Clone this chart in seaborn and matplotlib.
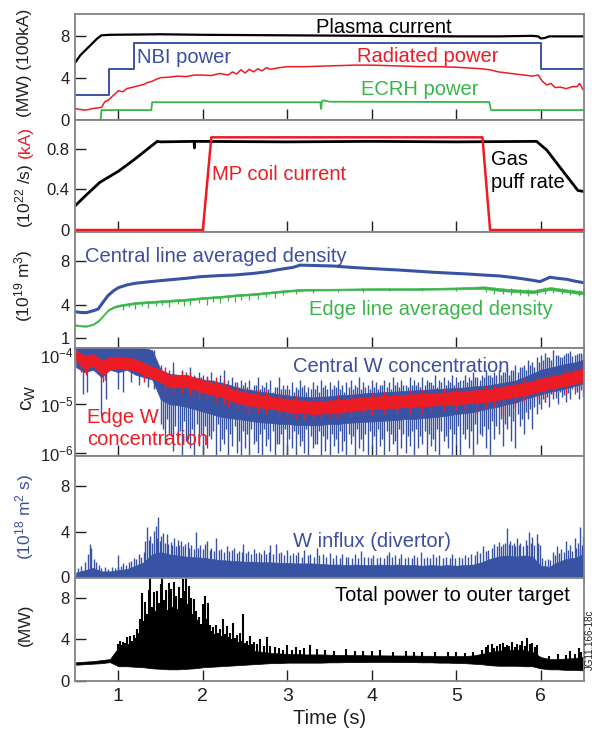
import numpy as np
import matplotlib
matplotlib.use("Agg")
import matplotlib.pyplot as plt
import seaborn as sns

# ---------------- data ----------------
t_grid = [0.5, 0.6, 0.7, 0.8, 0.9, 1.0, 1.1, 1.2, 1.3, 1.4, 1.5, 1.6, 1.7, 1.8, 1.9, 2.0,
          2.1, 2.2, 2.3, 2.4, 2.5, 2.6, 2.7, 2.8, 2.9, 3.0, 3.1, 3.2, 3.3, 3.4, 3.5, 3.6,
          3.7, 3.8, 3.9, 4.0, 4.1, 4.2, 4.3, 4.4, 4.5, 4.6, 4.7, 4.8, 4.9, 5.0, 5.1, 5.2,
          5.3, 5.4, 5.5, 5.6, 5.7, 5.8, 5.9, 6.0, 6.1, 6.2, 6.3, 6.4, 6.5]

# panel 1
pc_t = [0.49, 0.55, 0.6, 0.65, 0.7, 0.75, 0.8, 0.9, 1.5, 2.0, 3.0, 4.0, 5.0, 5.5, 5.9, 5.97, 6.0, 6.05, 6.1, 6.51]
pc_v = [5.5, 6.2, 6.6, 7.0, 7.4, 7.8, 8.1, 8.15, 8.2, 8.15, 8.1, 8.05, 8.0, 8.0, 8.05, 8.0, 7.8, 7.85, 8.0, 8.0]
nbi_t = [0.49, 0.89, 1.19, 6.0, 6.51]
nbi_v = [2.4, 4.85, 7.35, 4.85, 4.85]
rp_t = [0.49, 0.55, 0.6, 0.65, 0.7, 0.75, 0.8, 0.84, 0.88, 0.92, 0.96, 1.0, 1.05, 1.1, 1.15, 1.2,
        1.25, 1.3, 1.35, 1.4, 1.45, 1.5, 1.6, 1.7, 1.8, 1.9, 2.0, 2.1, 2.2, 2.3, 2.35, 2.4,
        2.45, 2.5, 2.55, 2.6, 2.65, 2.7, 2.75, 2.8, 2.9, 3.0, 3.2, 3.4, 3.6, 3.8, 4.0, 4.2,
        4.4, 4.6, 4.8, 5.0, 5.1, 5.2, 5.3, 5.4, 5.5, 5.6, 5.7, 5.8, 5.9, 5.97, 6.02, 6.07,
        6.12, 6.17, 6.23, 6.3, 6.38, 6.43, 6.46, 6.5]
rp_v = [1.1, 1.0, 0.95, 1.0, 1.1, 1.15, 1.2, 1.75, 1.9, 2.2, 2.5, 2.8, 2.7, 3.0, 3.1, 3.2,
        3.3, 3.4, 3.6, 3.7, 3.9, 4.05, 4.1, 4.2, 4.15, 4.3, 4.3, 4.25, 4.45, 4.3, 4.6, 4.4,
        4.8, 4.5, 4.85, 4.6, 4.9, 4.7, 5.0, 4.85, 5.0, 5.1, 5.1, 5.15, 5.2, 5.25, 5.25, 5.2,
        5.15, 5.1, 5.1, 5.05, 5.0, 4.95, 4.9, 4.8, 4.6, 4.5, 4.4, 4.3, 4.2, 4.3, 3.7, 3.35,
        3.5, 3.1, 3.15, 3.0, 3.2, 3.2, 3.5, 2.9]
ec_t = [0.49, 0.79, 0.8, 1.39, 1.4, 3.39, 3.4, 3.41, 3.43, 3.5, 5.39, 5.41, 6.51]
ec_v = [0.0, 0.0, 0.95, 0.95, 1.7, 1.7, 1.05, 1.8, 1.88, 1.75, 1.72, 0.95, 0.95]

# panel 2
gas_t = [0.49, 0.6, 0.78, 1.0, 1.18, 1.46, 1.5, 1.897, 1.9, 1.903, 3.0, 4.0, 5.0, 5.95, 6.07, 6.19, 6.31, 6.44, 6.51]
gas_v = [0.24, 0.33, 0.47, 0.58, 0.69, 0.875, 0.87, 0.875, 0.81, 0.875, 0.87, 0.875, 0.87, 0.875, 0.79, 0.66, 0.53, 0.39, 0.38]
mp_t = [0.49, 2.0, 2.1, 5.31, 5.40, 6.51]
mp_v = [0.0, 0.0, 0.915, 0.915, 0.0, 0.0]

# panel 3
cd_t = [0.49, 0.55, 0.62, 0.7, 0.76, 0.82, 0.88, 0.94, 1.0, 1.1, 1.2, 1.38, 1.58, 1.8, 1.97, 2.2,
        2.37, 2.6, 2.76, 2.9, 3.07, 3.15, 3.3, 3.54, 3.75, 3.94, 4.13, 4.33, 4.53, 4.73, 4.93,
        5.12, 5.32, 5.52, 5.7, 5.83, 5.92, 5.99, 6.05, 6.11, 6.2, 6.31, 6.4, 6.51]
cd_v = [3.42, 3.35, 3.33, 3.5, 3.65, 4.3, 4.9, 5.3, 5.6, 5.85, 6.0, 6.15, 6.3, 6.45, 6.6, 6.7,
        6.75, 6.9, 7.05, 7.25, 7.45, 7.65, 7.62, 7.57, 7.45, 7.36, 7.28, 7.2, 7.1, 7.0, 6.92,
        6.85, 6.75, 6.66, 6.5, 6.36, 6.25, 6.15, 6.35, 6.55, 6.45, 6.36, 6.2, 6.05]
ed_t = [0.49, 0.55, 0.62, 0.7, 0.76, 0.82, 0.88, 0.94, 1.0, 1.2, 1.4, 1.6, 1.8, 2.0, 2.2, 2.4,
        2.6, 2.8, 3.0, 3.2, 3.5, 4.0, 4.5, 5.0, 5.32, 5.52, 5.7, 5.91, 6.0, 6.11, 6.3, 6.51]
ed_hi = [2.27, 2.2, 2.17, 2.35, 2.65, 3.15, 3.65, 3.9, 4.05, 4.3, 4.4, 4.5, 4.6, 4.75, 4.85, 5.0,
         5.1, 5.25, 5.4, 5.5, 5.5, 5.55, 5.55, 5.62, 5.72, 5.55, 5.45, 5.35, 5.5, 5.65, 5.45, 5.25]
ed_lo = [2.13, 2.08, 2.05, 2.22, 2.5, 3.0, 3.5, 3.75, 3.88, 4.12, 4.22, 4.32, 4.42, 4.58, 4.68, 4.83,
         4.93, 5.08, 5.23, 5.33, 5.35, 5.4, 5.4, 5.45, 5.5, 5.3, 5.2, 5.1, 5.25, 5.4, 5.2, 4.98]
# green noise spikes: (time, bottom, top)
ed_spikes = [(1.05, 3.55, 4.0), (1.12, 3.8, 4.2), (1.2, 3.7, 4.2), (1.28, 3.9, 4.3), (1.35, 3.75, 4.3),
             (1.45, 3.9, 4.4), (1.52, 4.0, 4.4), (1.6, 3.85, 4.45), (1.7, 4.1, 4.5), (1.78, 3.95, 4.55),
             (1.85, 4.05, 4.6), (1.95, 4.2, 4.7), (2.05, 4.0, 4.75), (2.12, 4.3, 4.8), (2.2, 4.25, 4.85),
             (2.3, 4.4, 4.9), (2.38, 4.3, 4.95), (2.45, 4.5, 5.0), (2.55, 4.45, 5.05), (2.65, 4.6, 5.15),
             (2.75, 4.75, 5.2), (2.85, 4.7, 5.3), (2.95, 4.9, 5.35), (3.1, 5.05, 5.45), (3.3, 5.15, 5.5),
             (3.6, 5.2, 5.5), (3.9, 5.25, 5.55), (4.2, 5.3, 5.55), (4.6, 5.28, 5.55), (5.0, 5.3, 5.62),
             (5.35, 5.25, 5.75), (5.45, 5.0, 5.65), (5.55, 5.05, 5.6), (5.65, 4.9, 5.55), (5.75, 4.95, 5.5),
             (5.85, 4.85, 5.45), (5.95, 4.9, 5.5), (6.05, 5.05, 5.65), (6.15, 5.1, 5.7), (6.25, 5.0, 5.55),
             (6.35, 4.95, 5.5), (6.45, 4.8, 5.35)]

# panel 4 (log10 of c_W)
red_hi = [-3.9, -4.02, -3.98, -4.1, -4.05, -4.03, -4.05, -4.08, -4.16, -4.24, -4.3, -4.4, -4.41,
          -4.4, -4.46, -4.51, -4.56, -4.59, -4.66, -4.72, -4.76, -4.79, -4.82, -4.84, -4.87,
          -4.9, -4.92, -4.93, -4.95, -4.94, -4.93, -4.91, -4.9, -4.88, -4.86, -4.85, -4.84,
          -4.83, -4.82, -4.81, -4.8, -4.79, -4.78, -4.77, -4.76, -4.75, -4.74, -4.72, -4.71,
          -4.69, -4.66, -4.63, -4.6, -4.57, -4.53, -4.48, -4.44, -4.41, -4.37, -4.33, -4.28]
red_lo = [-4.12, -4.3, -4.22, -4.4, -4.3, -4.27, -4.29, -4.32, -4.4, -4.48, -4.55, -4.65, -4.66,
          -4.65, -4.71, -4.76, -4.81, -4.84, -4.91, -4.97, -5.01, -5.04, -5.07, -5.09, -5.12,
          -5.15, -5.17, -5.18, -5.2, -5.19, -5.18, -5.16, -5.15, -5.13, -5.11, -5.1, -5.09,
          -5.08, -5.07, -5.06, -5.05, -5.04, -5.03, -5.02, -5.01, -5.0, -4.99, -4.97, -4.96,
          -4.94, -4.91, -4.88, -4.85, -4.82, -4.78, -4.73, -4.69, -4.66, -4.62, -4.58, -4.53]
red_spikes = [(0.56, -4.35, -4.0), (0.62, -4.4, -4.0), (0.82, -4.55, -4.1), (0.84, -4.5, -4.1),
              (1.3, -4.55, -4.2), (1.95, -4.9, -4.45), (2.3, -5.05, -4.6), (2.55, -5.2, -4.75),
              (2.9, -5.25, -4.8), (3.2, -5.3, -4.9), (3.5, -5.28, -4.9), (3.9, -5.22, -4.85),
              (4.3, -5.2, -4.8), (4.7, -5.15, -4.75), (5.1, -5.15, -4.7), (5.25, -5.2, -4.7),
              (5.55, -5.25, -4.6), (5.7, -5.05, -4.55), (6.05, -4.95, -4.4), (6.3, -4.8, -4.3),
              (1.55, -4.75, -4.25), (1.65, -4.8, -4.3), (1.75, -4.78, -4.32), (1.85, -4.82, -4.35),
              (2.05, -4.9, -4.42), (2.15, -4.95, -4.45), (2.25, -5.0, -4.5), (2.4, -5.1, -4.6),
              (2.5, -5.12, -4.65), (2.65, -5.18, -4.7), (2.75, -5.2, -4.72), (3.0, -5.28, -4.8),
              (3.1, -5.3, -4.82), (3.3, -5.32, -4.85), (3.4, -5.3, -4.85), (3.6, -5.28, -4.82),
              (3.75, -5.26, -4.8), (4.0, -5.22, -4.76), (4.15, -5.2, -4.74), (4.45, -5.18, -4.72),
              (4.6, -5.17, -4.7), (4.85, -5.14, -4.68), (5.0, -5.12, -4.66), (5.35, -5.08, -4.62),
              (5.45, -5.06, -4.6), (5.8, -4.95, -4.48), (5.95, -4.9, -4.42), (6.15, -4.82, -4.35),
              (6.4, -4.72, -4.25), (6.48, -4.68, -4.18)]

bw_hi = [-3.82, -3.82, -3.82, -3.85, -3.82, -3.82, -3.84, -3.85, -3.86, -3.9, -4.3, -4.38, -4.4,
         -4.42, -4.45, -4.5, -4.52, -4.56, -4.6, -4.66, -4.7, -4.72, -4.75, -4.77, -4.8, -4.82,
         -4.84, -4.85, -4.86, -4.85, -4.84, -4.82, -4.81, -4.8, -4.78, -4.77, -4.76, -4.75, -4.74,
         -4.73, -4.72, -4.71, -4.7, -4.69, -4.68, -4.67, -4.66, -4.64, -4.63, -4.61, -4.58, -4.55,
         -4.52, -4.45, -4.38, -4.3, -4.26, -4.22, -4.18, -4.15, -4.1]
bw_lo = [-4.25, -4.35, -4.3, -4.45, -4.3, -4.35, -4.3, -4.4, -4.45, -4.5, -4.9, -5.0, -5.02,
         -5.05, -5.1, -5.15, -5.2, -5.25, -5.28, -5.3, -5.32, -5.35, -5.37, -5.38, -5.4, -5.4,
         -5.42, -5.42, -5.43, -5.42, -5.4, -5.4, -5.38, -5.37, -5.36, -5.35, -5.34, -5.33, -5.32,
         -5.3, -5.3, -5.28, -5.27, -5.25, -5.23, -5.2, -5.18, -5.16, -5.12, -5.08, -5.05, -5.0,
         -4.97, -4.9, -4.85, -4.8, -4.75, -4.72, -4.68, -4.63, -4.58]
# blue noise spikes before the drop: (time, bottom, top)
bw_early_spikes = [(0.58, -4.8, -3.9), (0.63, -4.75, -3.9), (0.8, -5.25, -3.9), (0.85, -4.9, -3.9),
                   (1.0, -4.7, -3.9), (1.05, -4.75, -3.9), (1.15, -4.55, -3.9), (1.25, -4.6, -3.9),
                   (1.35, -4.65, -3.9), (1.42, -4.7, -3.9)]
# blue noise spikes after the drop, every 0.05 s from 1.50 to 6.50 (long ones)
bw_spk_t = [1.50, 1.55, 1.60, 1.65, 1.70, 1.75, 1.80, 1.85, 1.90, 1.95,
            2.00, 2.05, 2.10, 2.15, 2.20, 2.25, 2.30, 2.35, 2.40, 2.45,
            2.50, 2.55, 2.60, 2.65, 2.70, 2.75, 2.80, 2.85, 2.90, 2.95,
            3.00, 3.05, 3.10, 3.15, 3.20, 3.25, 3.30, 3.35, 3.40, 3.45,
            3.50, 3.55, 3.60, 3.65, 3.70, 3.75, 3.80, 3.85, 3.90, 3.95,
            4.00, 4.05, 4.10, 4.15, 4.20, 4.25, 4.30, 4.35, 4.40, 4.45,
            4.50, 4.55, 4.60, 4.65, 4.70, 4.75, 4.80, 4.85, 4.90, 4.95,
            5.00, 5.05, 5.10, 5.15, 5.20, 5.25, 5.30, 5.35, 5.40, 5.45,
            5.50, 5.55, 5.60, 5.65, 5.70, 5.75, 5.80, 5.85, 5.90, 5.95,
            6.00, 6.05, 6.10, 6.15, 6.20, 6.25, 6.30, 6.35, 6.40, 6.45, 6.50]
bw_spk_lo = [-5.4, -5.8, -5.6, -5.95, -5.7, -6.05, -5.75, -5.9, -6.05, -5.85,
             -6.05, -5.9, -5.7, -6.05, -5.95, -5.8, -6.05, -5.85, -6.0, -6.05,
             -5.9, -6.05, -5.8, -6.0, -6.05, -5.85, -5.95, -6.05, -5.8, -6.05,
             -6.05, -5.9, -6.05, -5.85, -6.0, -6.05, -5.9, -5.8, -6.05, -5.95,
             -6.05, -5.85, -6.0, -5.95, -6.05, -5.8, -6.05, -5.9, -5.95, -6.05,
             -5.9, -6.05, -5.85, -6.05, -5.95, -5.8, -6.05, -5.9, -6.0, -5.85,
             -6.05, -5.9, -5.8, -6.05, -5.85, -5.95, -6.05, -5.75, -5.9, -6.05,
             -5.85, -6.05, -5.7, -5.9, -6.05, -5.8, -5.65, -5.9, -6.05, -5.7,
             -5.6, -5.85, -5.5, -5.75, -5.9, -5.45, -5.6, -5.3, -5.5, -5.2,
             -5.1, -4.95, -5.05, -4.9, -5.0, -4.85, -4.95, -4.9, -4.8, -4.9, -4.85]
bw_spk_hi = [-4.2, -4.35, -4.3, -4.15, -4.4, -4.3, -4.35, -4.25, -4.4, -4.35,
             -4.4, -4.45, -4.35, -4.5, -4.4, -4.3, -4.5, -4.45, -4.55, -4.5,
             -4.55, -4.5, -4.6, -4.45, -4.6, -4.55, -4.5, -4.65, -4.45, -4.6,
             -4.6, -4.55, -4.65, -4.5, -4.6, -4.65, -4.55, -4.6, -4.5, -4.6,
             -4.55, -4.6, -4.5, -4.6, -4.55, -4.5, -4.6, -4.45, -4.55, -4.6,
             -4.5, -4.55, -4.6, -4.5, -4.55, -4.45, -4.55, -4.5, -4.6, -4.45,
             -4.5, -4.55, -4.45, -4.5, -4.55, -4.4, -4.5, -4.45, -4.5, -4.4,
             -4.45, -4.5, -4.4, -4.45, -4.35, -4.45, -4.4, -4.3, -4.4, -4.35,
             -4.3, -4.35, -4.25, -4.3, -4.2, -4.25, -4.2, -4.1, -4.15, -4.05,
             -4.0, -3.95, -4.05, -3.9, -4.0, -4.05, -3.95, -3.92, -4.0, -3.95, -3.98]
# blue noise spikes in between (shorter ones), from 1.525 to 6.475
bw_spk2_t = [1.525, 1.575, 1.625, 1.675, 1.725, 1.775, 1.825, 1.875, 1.925, 1.975,
             2.025, 2.075, 2.125, 2.175, 2.225, 2.275, 2.325, 2.375, 2.425, 2.475,
             2.525, 2.575, 2.625, 2.675, 2.725, 2.775, 2.825, 2.875, 2.925, 2.975,
             3.025, 3.075, 3.125, 3.175, 3.225, 3.275, 3.325, 3.375, 3.425, 3.475,
             3.525, 3.575, 3.625, 3.675, 3.725, 3.775, 3.825, 3.875, 3.925, 3.975,
             4.025, 4.075, 4.125, 4.175, 4.225, 4.275, 4.325, 4.375, 4.425, 4.475,
             4.525, 4.575, 4.625, 4.675, 4.725, 4.775, 4.825, 4.875, 4.925, 4.975,
             5.025, 5.075, 5.125, 5.175, 5.225, 5.275, 5.325, 5.375, 5.425, 5.475,
             5.525, 5.575, 5.625, 5.675, 5.725, 5.775, 5.825, 5.875, 5.925, 5.975,
             6.025, 6.075, 6.125, 6.175, 6.225, 6.275, 6.325, 6.375, 6.425, 6.475]
bw_spk2_lo = [-5.5, -5.3, -5.65, -5.45, -5.55, -5.35, -5.7, -5.5, -5.4, -5.6,
              -5.45, -5.65, -5.55, -5.4, -5.7, -5.5, -5.6, -5.45, -5.75, -5.55,
              -5.6, -5.5, -5.75, -5.6, -5.5, -5.7, -5.55, -5.8, -5.6, -5.5,
              -5.7, -5.55, -5.6, -5.75, -5.5, -5.65, -5.8, -5.55, -5.65, -5.7,
              -5.6, -5.7, -5.55, -5.75, -5.6, -5.65, -5.5, -5.7, -5.6, -5.55,
              -5.65, -5.5, -5.7, -5.55, -5.6, -5.75, -5.5, -5.6, -5.65, -5.55,
              -5.5, -5.65, -5.55, -5.6, -5.7, -5.5, -5.55, -5.65, -5.5, -5.6,
              -5.45, -5.6, -5.5, -5.55, -5.4, -5.6, -5.45, -5.5, -5.35, -5.45,
              -5.3, -5.4, -5.25, -5.35, -5.2, -5.3, -5.15, -5.1, -5.05, -5.0,
              -4.9, -4.85, -4.8, -4.88, -4.75, -4.82, -4.78, -4.7, -4.75, -4.72]
bw_spk2_hi = [-4.45, -4.5, -4.4, -4.55, -4.45, -4.5, -4.4, -4.55, -4.5, -4.45,
              -4.55, -4.6, -4.5, -4.6, -4.55, -4.65, -4.6, -4.55, -4.65, -4.6,
              -4.65, -4.7, -4.6, -4.7, -4.65, -4.7, -4.75, -4.65, -4.7, -4.7,
              -4.7, -4.75, -4.7, -4.65, -4.75, -4.7, -4.7, -4.75, -4.65, -4.7,
              -4.7, -4.65, -4.7, -4.75, -4.65, -4.7, -4.65, -4.7, -4.65, -4.7,
              -4.65, -4.7, -4.6, -4.65, -4.7, -4.6, -4.65, -4.6, -4.65, -4.6,
              -4.6, -4.65, -4.6, -4.55, -4.6, -4.65, -4.55, -4.6, -4.55, -4.6,
              -4.55, -4.5, -4.55, -4.5, -4.45, -4.5, -4.45, -4.4, -4.45, -4.4,
              -4.4, -4.35, -4.4, -4.3, -4.35, -4.25, -4.3, -4.2, -4.25, -4.15,
              -4.1, -4.05, -4.1, -4.0, -4.05, -4.0, -3.95, -4.02, -3.98, -3.95]

# panel 5 (W influx): dense floor + spikes (time, height)
wf_base = [0.4, 0.6, 0.8, 0.5, 0.5, 0.6, 0.7, 1.0, 1.3, 2.0, 2.2, 2.0, 1.9, 1.8, 1.75, 1.7,
           1.6, 1.5, 1.45, 1.4, 1.35, 1.35, 1.3, 1.3, 1.25, 1.25, 1.2, 1.2, 1.2, 1.15, 1.1, 1.1,
           1.05, 1.1, 1.05, 1.05, 1.1, 1.05, 1.1, 1.05, 1.05, 1.0, 1.05, 1.0, 1.05, 1.0, 1.05,
           1.1, 1.3, 1.6, 1.8, 1.9, 1.8, 1.9, 1.8, 1.0, 0.9, 1.3, 1.6, 1.7, 2.0]
wf_spikes = [(0.52, 0.8), (0.56, 1.0), (0.6, 1.3), (0.64, 2.0), (0.66, 2.9), (0.68, 2.6), (0.71, 1.6),
             (0.74, 1.3), (0.77, 1.1), (0.8, 0.8), (0.84, 0.9), (0.88, 0.7), (0.92, 0.9), (0.96, 0.8),
             (1.0, 1.9), (1.03, 1.0), (1.06, 1.2), (1.09, 1.1), (1.12, 1.3), (1.15, 1.4), (1.18, 1.7),
             (1.21, 1.6), (1.24, 2.0), (1.27, 1.8), (1.3, 2.2), (1.32, 3.2), (1.34, 4.4), (1.36, 3.3),
             (1.38, 3.6), (1.4, 3.0), (1.42, 4.1), (1.44, 4.5), (1.46, 3.4), (1.47, 5.3), (1.49, 3.2),
             (1.51, 3.6), (1.53, 3.9), (1.55, 3.0), (1.57, 3.8), (1.59, 2.9), (1.62, 3.1), (1.64, 2.8),
             (1.66, 3.4), (1.68, 2.7), (1.7, 3.3), (1.72, 2.8), (1.74, 3.2), (1.77, 2.7), (1.79, 2.9),
             (1.82, 3.1), (1.84, 2.6), (1.86, 2.8), (1.89, 2.5), (1.92, 4.0), (1.94, 2.6), (1.97, 2.8),
             (2.0, 2.5), (2.02, 2.9), (2.05, 3.2), (2.08, 2.4), (2.1, 2.6), (2.13, 2.3), (2.16, 3.4),
             (2.19, 2.4), (2.22, 2.5), (2.25, 2.2), (2.28, 2.7), (2.31, 2.3), (2.34, 2.4), (2.37, 2.6),
             (2.4, 2.1), (2.43, 2.3), (2.46, 2.2), (2.48, 2.9), (2.51, 2.1), (2.54, 2.3), (2.57, 2.0),
             (2.6, 2.5), (2.63, 2.1), (2.66, 2.2), (2.69, 2.0), (2.72, 2.4), (2.75, 2.0), (2.78, 2.2),
             (2.8, 2.8), (2.83, 2.0), (2.87, 2.9), (2.9, 2.1), (2.93, 2.2), (2.96, 1.9), (3.0, 2.4),
             (3.03, 1.9), (3.07, 2.1), (3.1, 1.9), (3.13, 2.2), (3.17, 1.8), (3.2, 2.4), (3.24, 1.9),
             (3.27, 2.0), (3.31, 1.8), (3.35, 2.6), (3.38, 1.9), (3.42, 2.0), (3.46, 1.8), (3.5, 2.1),
             (3.54, 1.7), (3.58, 1.9), (3.62, 1.7), (3.65, 2.0), (3.69, 1.8), (3.72, 1.8), (3.76, 1.7),
             (3.8, 2.0), (3.84, 1.7), (3.87, 2.3), (3.91, 1.8), (3.95, 1.8), (3.99, 1.7), (4.02, 1.9),
             (4.06, 1.7), (4.1, 1.8), (4.14, 1.7), (4.18, 1.9), (4.2, 2.2), (4.24, 1.8), (4.28, 1.9),
             (4.32, 1.7), (4.35, 2.0), (4.39, 1.7), (4.43, 1.8), (4.47, 1.7), (4.5, 1.9), (4.54, 1.8),
             (4.58, 2.2), (4.62, 1.7), (4.65, 1.8), (4.69, 1.7), (4.72, 2.0), (4.76, 1.8), (4.8, 1.9),
             (4.84, 1.7), (4.88, 1.8), (4.92, 1.7), (4.95, 2.0), (4.99, 1.7), (5.03, 1.8), (5.07, 1.7),
             (5.1, 1.9), (5.14, 1.8), (5.18, 2.0), (5.22, 1.9), (5.25, 2.3), (5.28, 2.1), (5.32, 2.7),
             (5.35, 2.3), (5.38, 2.4), (5.42, 2.6), (5.45, 2.9), (5.48, 2.7), (5.5, 3.1), (5.53, 2.7),
             (5.55, 2.9), (5.58, 3.0), (5.6, 4.3), (5.62, 2.9), (5.64, 3.2), (5.66, 2.8), (5.68, 3.0),
             (5.7, 2.7), (5.72, 3.4), (5.74, 2.8), (5.76, 3.0), (5.79, 2.7), (5.82, 3.3), (5.84, 2.8),
             (5.86, 4.0), (5.88, 3.0), (5.9, 3.5), (5.92, 2.8), (5.95, 3.8), (5.97, 3.0), (5.99, 2.8),
             (6.02, 1.7), (6.05, 1.5), (6.08, 1.6), (6.11, 1.5), (6.14, 2.2), (6.17, 1.9), (6.19, 2.7),
             (6.22, 2.1), (6.24, 2.5), (6.27, 2.2), (6.3, 3.2), (6.32, 2.4), (6.35, 2.8), (6.37, 2.3),
             (6.4, 3.4), (6.42, 2.6), (6.44, 3.0), (6.46, 2.5), (6.47, 4.4), (6.49, 2.8), (6.5, 3.6)]

# panel 6 (power to outer target): dense band + spikes (time, height)
pw_lo = [1.55, 1.6, 1.65, 1.7, 1.8, 1.4, 1.4, 1.35, 1.3, 1.2, 1.15, 1.1, 1.1, 1.15, 1.2, 1.3,
         1.35, 1.4, 1.45, 1.5, 1.55, 1.6, 1.65, 1.7, 1.7, 1.75, 1.75, 1.75, 1.75, 1.75, 1.78,
         1.78, 1.8, 1.8, 1.8, 1.82, 1.82, 1.82, 1.8, 1.8, 1.8, 1.78, 1.78, 1.75, 1.75, 1.72,
         1.7, 1.65, 1.6, 1.5, 1.45, 1.45, 1.45, 1.4, 1.4, 1.2, 1.1, 1.1, 1.05, 1.05, 1.0]
pw_hi = [1.8, 1.85, 1.9, 2.0, 2.1, 3.2, 3.4, 3.8, 5.0, 6.0, 6.3, 6.4, 6.2, 6.0, 5.2, 4.4,
         3.9, 3.6, 3.4, 3.2, 3.0, 2.9, 2.8, 2.7, 2.65, 2.6, 2.6, 2.55, 2.55, 2.55, 2.52,
         2.5, 2.5, 2.48, 2.48, 2.46, 2.46, 2.45, 2.45, 2.44, 2.44, 2.42, 2.42, 2.4, 2.4, 2.4,
         2.4, 2.45, 2.6, 2.8, 2.9, 3.0, 3.0, 3.0, 2.8, 2.3, 2.1, 2.1, 2.15, 2.2, 2.3]
pw_spikes = [(1.00, 3.6), (1.02, 3.9), (1.04, 3.5), (1.06, 3.8), (1.08, 3.7), (1.10, 4.2), (1.12, 3.6),
             (1.14, 4.3), (1.16, 3.9), (1.18, 4.4), (1.20, 4.1), (1.22, 5.0), (1.24, 4.6), (1.26, 6.0),
             (1.28, 8.5), (1.30, 5.8), (1.32, 7.6), (1.34, 6.5), (1.36, 8.8), (1.38, 10.0), (1.40, 7.2),
             (1.42, 8.6), (1.44, 6.8), (1.46, 8.7), (1.48, 7.5), (1.50, 9.4), (1.52, 10.0), (1.54, 7.8),
             (1.56, 8.8), (1.58, 6.9), (1.60, 9.5), (1.62, 8.9), (1.64, 7.2), (1.66, 9.6), (1.68, 8.2),
             (1.70, 7.0), (1.72, 9.1), (1.74, 8.0), (1.76, 9.9), (1.78, 8.7), (1.80, 10.0), (1.82, 7.4),
             (1.84, 9.2), (1.86, 8.0), (1.88, 6.5), (1.90, 7.9), (1.92, 6.8), (1.94, 5.9), (1.96, 6.2),
             (1.98, 5.5), (2.00, 7.4), (2.02, 8.2), (2.04, 6.0), (2.06, 7.5), (2.08, 5.4), (2.10, 4.8),
             (2.12, 5.2), (2.14, 4.5), (2.16, 5.4), (2.18, 4.6), (2.20, 5.0), (2.22, 4.3), (2.24, 6.0),
             (2.26, 4.5), (2.28, 5.3), (2.30, 4.2), (2.32, 4.6), (2.34, 4.0), (2.36, 5.6), (2.38, 4.1),
             (2.40, 4.4), (2.42, 3.8), (2.44, 4.6), (2.46, 3.9), (2.48, 6.5), (2.50, 3.7), (2.52, 3.9),
             (2.54, 3.5), (2.56, 4.3), (2.58, 3.6), (2.60, 3.8), (2.64, 3.6), (2.68, 4.0), (2.72, 3.4),
             (2.76, 4.2), (2.8, 3.4), (2.85, 3.3), (2.9, 3.2), (2.95, 3.0), (3.0, 3.5), (3.05, 3.0),
             (3.1, 3.3), (3.15, 3.0), (3.2, 3.2), (3.27, 3.5), (3.35, 3.1), (3.45, 3.0), (3.55, 2.9),
             (3.7, 3.1), (3.8, 2.9), (3.9, 2.9), (4.0, 2.85), (4.1, 3.0), (4.25, 2.8), (4.4, 2.9),
             (4.5, 2.8), (4.6, 2.8), (4.75, 2.75), (4.9, 2.8), (5.0, 2.75), (5.1, 2.7), (5.2, 2.8),
             (5.3, 3.0), (5.35, 3.3), (5.38, 3.5), (5.42, 3.6), (5.45, 3.2), (5.48, 3.4), (5.52, 3.6),
             (5.55, 3.7), (5.58, 3.3), (5.6, 3.5), (5.63, 3.4), (5.66, 3.8), (5.69, 3.3), (5.72, 3.6),
             (5.75, 3.5), (5.78, 3.9), (5.81, 3.4), (5.84, 4.1), (5.87, 3.6), (5.9, 3.7), (5.93, 3.3),
             (5.95, 3.5), (6.1, 2.4), (6.2, 2.6), (6.3, 2.5), (6.35, 2.9), (6.4, 2.6), (6.45, 3.2),
             (6.48, 2.8)]

x_ticks = [1, 2, 3, 4, 5, 6]

# ---------------- styling ----------------
sns.set_theme(style="ticks")
plt.rcParams["font.family"] = ["Liberation Sans", "DejaVu Sans"]
plt.rcParams["mathtext.fontset"] = "custom"
plt.rcParams["mathtext.rm"] = "Liberation Sans"
plt.rcParams["mathtext.it"] = "Liberation Sans:italic"
plt.rcParams["mathtext.default"] = "regular"

BLUE = "#3953a4"
RED = "#ed1c24"
GREEN = "#39b54a"
TXT_BLUE = "#3c4ea0"
SPINE = "#808285"
INK = "#231f20"
ANN = 14.5

W_PX, H_PX = 595, 729
fig = plt.figure(figsize=(W_PX / 100, H_PX / 100), dpi=100)
XL, XR = 75.3, 584.0


def panel(top, bot):
    ax = fig.add_axes([XL / W_PX, 1 - bot / H_PX, (XR - XL) / W_PX, (bot - top) / H_PX])
    ax.set_xlim(0.49, 6.512)
    ax.set_xticks(x_ticks)
    ax.tick_params(axis="both", direction="in", length=8, width=1.0, color=INK,
                   labelcolor=INK, top=False, right=False)
    ax.tick_params(axis="y", labelsize=12, pad=4)
    ax.tick_params(axis="x", labelsize=14, pad=5)
    ax.tick_params(axis="x", labelbottom=False)
    for s in ax.spines.values():
        s.set_color(SPINE)
        s.set_linewidth(1.3)
        s.set_zorder(5)
    return ax


ax1 = panel(14, 120)
ax2 = panel(120, 232)
ax3 = panel(232, 347.5)
ax4 = panel(347.5, 456)
ax5 = panel(456, 578)
ax6 = panel(578, 681)

# ---- panel 1
sns.lineplot(x=ec_t, y=ec_v, ax=ax1, color=GREEN, lw=1.3, estimator=None, sort=False, legend=False)
sns.lineplot(x=rp_t, y=rp_v, ax=ax1, color=RED, lw=1.1, estimator=None, sort=False, legend=False)
sns.lineplot(x=nbi_t, y=nbi_v, ax=ax1, color=BLUE, lw=1.4, estimator=None, sort=False,
             legend=False, drawstyle="steps-post")
sns.lineplot(x=pc_t, y=pc_v, ax=ax1, color="black", lw=1.6, estimator=None, sort=False, legend=False)
ax1.set_ylim(0, 10.14)
ax1.set_yticks([0, 4, 8])
ax1.text(3.34, 8.35, "Plasma current", color="black", fontsize=ANN, va="baseline")
ax1.text(1.22, 5.45, "NBI power", color=TXT_BLUE, fontsize=ANN, va="baseline")
ax1.text(3.83, 5.58, "Radiated power", color=RED, fontsize=ANN, va="baseline")
ax1.text(3.87, 2.39, "ECRH power", color=GREEN, fontsize=ANN, va="baseline")

# ---- panel 2
sns.lineplot(x=gas_t, y=gas_v, ax=ax2, color="black", lw=2.0, estimator=None, sort=False, legend=False)
sns.lineplot(x=mp_t, y=mp_v, ax=ax2, color=RED, lw=1.8, estimator=None, sort=False, legend=False)
ax2.set_ylim(-0.02, 1.086)
ax2.set_yticks([0, 0.4, 0.8])
ax2.set_yticklabels(["0", "0.4", "0.8"])
ax2.text(2.11, 0.494, "MP coil current", color=RED, fontsize=ANN, va="baseline")
ax2.text(5.41, 0.642, "Gas", color="black", fontsize=ANN, va="baseline")
ax2.text(5.41, 0.41, "puff rate", color="black", fontsize=ANN, va="baseline")

# ---- panel 3
ax3.fill_between(ed_t, ed_lo, ed_hi, color=GREEN, lw=0.5, zorder=2)
es_t, es_lo, es_hi = zip(*ed_spikes)
ax3.vlines(es_t, es_lo, es_hi, color=GREEN, lw=0.9, zorder=2)
sns.lineplot(x=cd_t, y=cd_v, ax=ax3, color=BLUE, lw=2.2, estimator=None, sort=False, legend=False)
ax3.set_ylim(0.164, 10.66)
ax3.set_yticks([1, 4, 8])
ax3.text(0.606, 7.96, "Central line averaged density", color=TXT_BLUE, fontsize=ANN, va="baseline")
ax3.text(3.26, 3.12, "Edge line averaged density", color=GREEN, fontsize=ANN, va="baseline")

# ---- panel 4 (log)
p = lambda v: np.power(10.0, np.asarray(v, dtype=float))
ax4.set_yscale("log")
ax4.fill_between(t_grid, p(bw_lo), p(bw_hi), color=BLUE, lw=0.5, zorder=2)
be_t, be_lo, be_hi = zip(*bw_early_spikes)
ax4.vlines(be_t, p(be_lo), p(be_hi), color=BLUE, lw=1.0, zorder=2)
ax4.vlines(bw_spk_t, p(bw_spk_lo), p(bw_spk_hi), color=BLUE, lw=1.0, zorder=2)
ax4.vlines(bw_spk2_t, p(bw_spk2_lo), p(bw_spk2_hi), color=BLUE, lw=1.0, zorder=2)
ax4.fill_between(t_grid, p(red_lo), p(red_hi), color=RED, lw=0.5, zorder=3)
rs_t, rs_lo, rs_hi = zip(*red_spikes)
ax4.vlines(rs_t, p(rs_lo), p(rs_hi), color=RED, lw=1.0, zorder=3)
ax4.set_ylim(10 ** -6.053, 10 ** -3.848)
ax4.set_yticks([1e-6, 1e-5, 1e-4])
ax4.minorticks_off()
ax4.tick_params(axis="y", pad=1)
ax4.text(3.07, 10 ** -4.34, "Central W concentration", color=TXT_BLUE, fontsize=ANN,
         va="baseline", zorder=6)
ax4.text(0.633, 10 ** -5.39, "Edge W", color=RED, fontsize=ANN, va="baseline", zorder=6)
ax4.text(0.633, 10 ** -5.83, "concentration", color=RED, fontsize=ANN, va="baseline", zorder=6)

# ---- panel 5
ax5.fill_between(t_grid, 0, wf_base, color=BLUE, lw=0.5, zorder=2)
ws_t, ws_v = zip(*wf_spikes)
ax5.vlines(ws_t, 0, ws_v, color=BLUE, lw=1.0, zorder=2)
ax5.set_ylim(-0.088, 10.68)
ax5.set_yticks([0, 4, 8])
ax5.text(3.07, 2.65, "W influx (divertor)", color=TXT_BLUE, fontsize=ANN, va="baseline", zorder=6)

# ---- panel 6
ax6.fill_between(t_grid, pw_lo, pw_hi, color="black", lw=0.5, zorder=2)
ps_t, ps_v = zip(*pw_spikes)
ax6.vlines(ps_t, 2.0, ps_v, color="black", lw=1.5, zorder=2)
ax6.set_ylim(-0.03, 9.97)
ax6.set_yticks([0, 4, 8])
ax6.tick_params(axis="x", labelbottom=True)
ax6.set_xticklabels([str(v) for v in x_ticks])
ax6.text(3.56, 7.77, "Total power to outer target", color="black", fontsize=ANN, va="baseline")
ax6.set_xlabel("Time (s)", fontsize=14.5, color=INK, labelpad=3)

for ax in (ax1, ax2, ax3, ax4, ax5, ax6):
    ax.set_ylabel("")


# ---- y labels (figure pixel positions)
def ylab(x, y, s, color=INK, size=12.5):
    fig.text(x / W_PX, 1 - y / H_PX, s, rotation=90, ha="center", va="center",
             color=color, fontsize=size)


ylab(25, 63, "(MW) (100kA)")
ylab(25, 196, "(10$^{22}$ /s)")
ylab(25, 142, "(kA)", color=RED)
ylab(24, 286, "(10$^{19}$ m$^{3}$)")
ylab(28, 398, "c$_{W}$", size=15)
ylab(25, 517, "(10$^{18}$ m$^{2}$ s)", color=TXT_BLUE)
ylab(25, 625, "(MW)")
fig.text(590 / W_PX, 1 - 640 / H_PX, "JG11.166-18c", rotation=90, ha="center", va="center",
         color=INK, fontsize=7)

fig.savefig("out.png", dpi=100)
